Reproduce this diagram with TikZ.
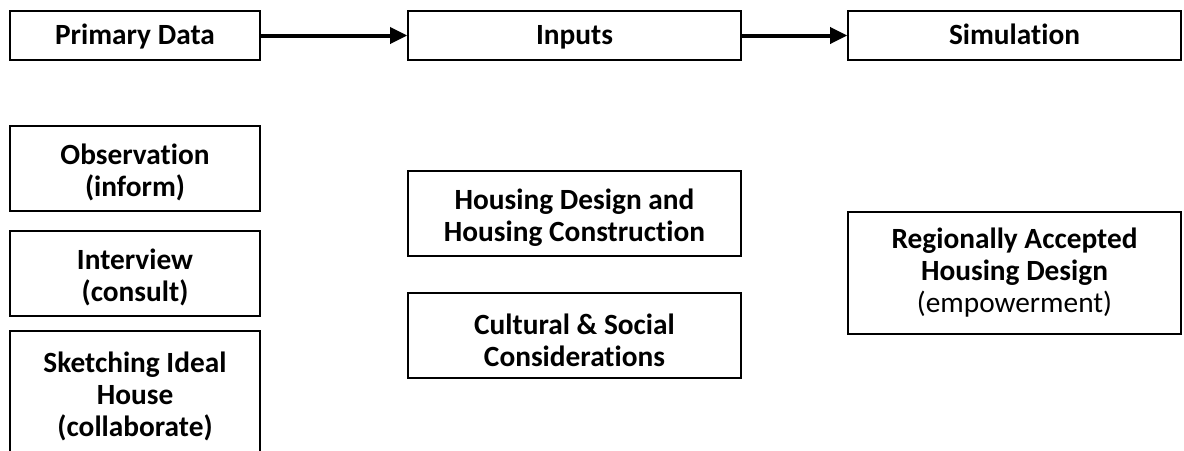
\documentclass[tikz,border=0pt]{standalone}
\usepackage{fontspec}
\setmainfont{Carlito}[Ligatures=NoCommon]
\usetikzlibrary{arrows.meta, positioning}
\definecolor{boxline}{HTML}{000000}
\newcommand{\capgap}{\rule{0pt}{22pt}}

\tikzset{
  basebox/.style={draw=boxline, line width=1pt, fill=white, align=center, inner sep=2pt,
    font=\fontsize{22}{24}\selectfont\bfseries},
  stagebox/.style={basebox},
  headbox/.style={basebox, text height=17pt, text depth=3pt},
  flowarrow/.style={-{Triangle[length=13pt, width=12pt]}, line width=3pt, draw=boxline},
}

\begin{document}
\begin{tikzpicture}[x=0.75pt, y=-0.75pt]
  % Page frame (the lowest box runs off the bottom)
  \clip (0,0) rectangle (1184,450);

  % Top row - the three stages
  \node[headbox, minimum width=187.5pt, minimum height=36.75pt] (primary) at (135,35.5) {Primary Data};
  \node[headbox, minimum width=249.75pt, minimum height=36.75pt] (inputs) at (574.5,35.5) {Inputs};
  \node[headbox, minimum width=249.75pt, minimum height=36.75pt] (simulation) at (1014.5,35.5) {Simulation};
  \draw[flowarrow] (primary) -- (inputs);
  \draw[flowarrow] (inputs) -- (simulation);

  % Primary data column
  \node[stagebox, minimum width=187.5pt, minimum height=63.75pt] (observation) at (135,168.5) {\capgap Observation\\(inform)};
  \node[stagebox, minimum width=187.5pt, minimum height=63.75pt] (interview) at (135,273.5) {\capgap Interview\\(consult)};
  \node[stagebox, minimum width=187.5pt, minimum height=91.5pt] (sketching) at (135,392) {\capgap Sketching Ideal\\House\\(collaborate)};

  % Inputs column
  \node[stagebox, minimum width=249.75pt, minimum height=63.75pt] (housing) at (574.5,213.5) {\capgap Housing Design and\\Housing Construction};
  \node[stagebox, minimum width=249.75pt, minimum height=63.75pt] (cultural) at (574.5,335.5) {\capgap Cultural \& Social\\Considerations};

  % Simulation column
  \node[stagebox, minimum width=249.75pt, minimum height=91.5pt] (regional) at (1014.5,273) {Regionally Accepted\\Housing Design\\{\mdseries (empowerment)}};
\end{tikzpicture}
\end{document}
